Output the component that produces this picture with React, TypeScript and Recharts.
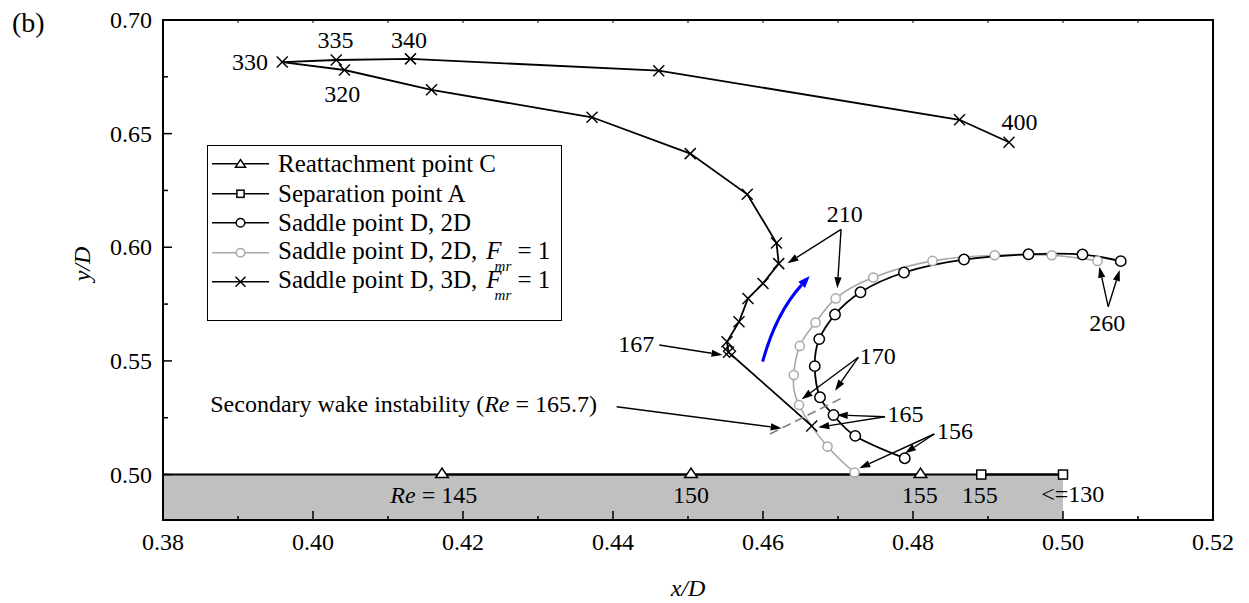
import React from 'react';
import {
  LineChart,
  Line,
  XAxis,
  YAxis,
  ReferenceArea,
  ReferenceLine,
  ReferenceDot,
  Legend,
} from 'recharts';

const SERIF = "'Liberation Serif', 'Times New Roman', Times, serif";
const WIDTH = 1249;
const HEIGHT = 603;
const MARGIN = { top: 20, right: 36, bottom: 43, left: 103 };

// ---- data (x/D, y/D) ----
const reattachmentX = [0.4172, 0.4504, 0.481];
const reattachmentY = [0.5, 0.5, 0.5];

const separationX = [0.4891, 0.5];
const separationY = [0.5, 0.5];

// Saddle point D, 2D (Re = 156 ... 260)
const saddle2DX = [0.4789, 0.4723, 0.4694, 0.4676, 0.4669, 0.4675, 0.4696, 0.473, 0.4788, 0.4868, 0.4954, 0.5026, 0.5077];
const saddle2DY = [0.5072, 0.517, 0.5262, 0.534, 0.5477, 0.5596, 0.5704, 0.5802, 0.5889, 0.5946, 0.5969, 0.5968, 0.5939];

// Saddle point D, 2D, F_mr = 1 (Re = 156 ... 260)
const saddle2DFmrX = [0.4722, 0.4686, 0.4648, 0.4641, 0.4649, 0.467, 0.4697, 0.4747, 0.4826, 0.4909, 0.4985, 0.5046];
const saddle2DFmrY = [0.5009, 0.5123, 0.5306, 0.5438, 0.5566, 0.5669, 0.5775, 0.5867, 0.594, 0.5965, 0.5965, 0.594];

// Saddle point D, 3D, F_mr = 1 (Re = 165 ... 400)
const saddle3DX = [0.4665, 0.4554, 0.4552, 0.4568, 0.458, 0.46, 0.4621, 0.4618, 0.4579, 0.4503, 0.4372, 0.4158, 0.4042, 0.3959, 0.4031, 0.413, 0.4461, 0.4862, 0.4928];
const saddle3DY = [0.5214, 0.5538, 0.5584, 0.5672, 0.5775, 0.5841, 0.5928, 0.6019, 0.6233, 0.6412, 0.6572, 0.6693, 0.678, 0.6815, 0.6824, 0.6829, 0.6777, 0.6561, 0.6462];

// ---- axes ----
const xTicks = [0.38, 0.39, 0.4, 0.41, 0.42, 0.43, 0.44, 0.45, 0.46, 0.47, 0.48, 0.49, 0.5, 0.51, 0.52];
const xTickLabels = ['0.38', '0.40', '0.42', '0.44', '0.46', '0.48', '0.50', '0.52'];
const yTicks = [0.5, 0.525, 0.55, 0.575, 0.6, 0.625, 0.65, 0.675, 0.7];
const yTickLabels = ['0.50', '0.55', '0.60', '0.65', '0.70'];

// ---- annotations (data coordinates) ----
type Ann = { text: string; x: number; y: number; anchor?: 'start' | 'middle' | 'end'; italicRe?: boolean };
const reLabels: Ann[] = [
  { text: '330', x: 0.3916, y: 0.6817 },
  { text: '335', x: 0.403, y: 0.6912 },
  { text: '340', x: 0.4128, y: 0.6912 },
  { text: '320', x: 0.4039, y: 0.6678 },
  { text: '400', x: 0.4942, y: 0.6553 },
  { text: '210', x: 0.4709, y: 0.615 },
  { text: '260', x: 0.5059, y: 0.5668 },
  { text: '167', x: 0.4431, y: 0.5578 },
  { text: '170', x: 0.4753, y: 0.5522 },
  { text: '165', x: 0.479, y: 0.5266 },
  { text: '156', x: 0.4856, y: 0.5193 },
  { text: ' = 145', x: 0.4161, y: 0.491, italicRe: true },
  { text: '150', x: 0.4504, y: 0.491 },
  { text: '155', x: 0.4809, y: 0.491 },
  { text: '155', x: 0.4889, y: 0.491 },
  { text: '<=130', x: 0.5013, y: 0.4916 },
];

const pointerArrows: [number, number, number, number][] = [
  [0.47041, 0.60791, 0.46327, 0.59295],
  [0.47041, 0.60791, 0.46991, 0.58195],
  [0.50603, 0.57385, 0.50485, 0.59145],
  [0.50603, 0.57385, 0.50756, 0.59],
  [0.44617, 0.557, 0.4546, 0.5526],
  [0.47271, 0.55159, 0.46516, 0.53311],
  [0.47271, 0.55159, 0.4696, 0.53689],
  [0.47627, 0.52545, 0.46983, 0.5262],
  [0.47627, 0.52545, 0.46737, 0.52079],
  [0.48284, 0.51784, 0.47284, 0.50275],
  [0.48284, 0.51784, 0.47893, 0.50935],
  [0.44049, 0.52985, 0.46249, 0.52035],
];

const wakeInstabilityLine: [number, number, number, number] = [0.46093, 0.51784, 0.47071, 0.53399];
const trendArrow: [number, number, number, number] = [0.45995, 0.54965, 0.46623, 0.58736];
const wakeText = { x: 0.43787, y: 0.531 };

const toPoints = (xs: number[], ys: number[]) => xs.map((x, i) => ({ x, y: ys[i] }));
const reattachment = toPoints(reattachmentX, reattachmentY);
const separation = toPoints(separationX, separationY);
const saddle2D = toPoints(saddle2DX, saddle2DY);
const saddle2DFmr = toPoints(saddle2DFmrX, saddle2DFmrY);
const saddle3D = toPoints(saddle3DX, saddle3DY);

const GRAY = '#a8a8a8';

// ---- marker shapes ----
const Triangle = ({ cx, cy, s = 1 }: { cx: number; cy: number; s?: number }) => (
  <polygon
    points={`${cx},${cy - 6.5 * s} ${cx - 6.3 * s},${cy + 3 * s} ${cx + 6.3 * s},${cy + 3 * s}`}
    fill="#fff"
    stroke="#000"
    strokeWidth={1.5}
  />
);
const Square = ({ cx, cy, s = 1 }: { cx: number; cy: number; s?: number }) => (
  <rect x={cx - 4.5 * s} y={cy - 4.5 * s} width={9 * s} height={9 * s} fill="#fff" stroke="#000" strokeWidth={1.5} />
);
const Circle = ({ cx, cy, r, color }: { cx: number; cy: number; r: number; color: string }) => (
  <circle cx={cx} cy={cy} r={r} fill="#fff" stroke={color} strokeWidth={1.5} />
);
const Cross = ({ cx, cy, s = 5.5 }: { cx: number; cy: number; s?: number }) => (
  <g stroke="#000" strokeWidth={1.5}>
    <line x1={cx - s} y1={cy - s} x2={cx + s} y2={cy + s} />
    <line x1={cx - s} y1={cy + s} x2={cx + s} y2={cy - s} />
  </g>
);

const triDot = (p: any) => <Triangle key={p.index} cx={p.cx} cy={p.cy} />;
const sqDot = (p: any) => <Square key={p.index} cx={p.cx} cy={p.cy} />;
const blackCircleDot = (p: any) => <Circle key={p.index} cx={p.cx} cy={p.cy} r={5.2} color="#000" />;
const grayCircleDot = (p: any) => <Circle key={p.index} cx={p.cx} cy={p.cy} r={4.6} color={GRAY} />;
const crossDot = (p: any) => <Cross key={p.index} cx={p.cx} cy={p.cy} />;

// ---- axis ticks (inward, major + minor) ----
const XTick = (props: any) => {
  const { x, y, payload } = props;
  const label = payload.value.toFixed(2);
  const major = xTickLabels.includes(label);
  return (
    <g>
      <line x1={x} y1={y} x2={x} y2={y - (major ? 9 : 4)} stroke="#000" strokeWidth={1.5} />
      <line x1={x} y1={MARGIN.top} x2={x} y2={MARGIN.top + 3} stroke="#000" strokeWidth={1} />
      {major && (
        <text x={x} y={y + 30} textAnchor="middle" fontSize={24} fontFamily={SERIF} fill="#000">
          {label}
        </text>
      )}
    </g>
  );
};

const YTick = (props: any) => {
  const { x, y, payload } = props;
  const label = payload.value.toFixed(2);
  const major = yTickLabels.includes(label) && Math.abs(payload.value * 100 - Math.round(payload.value * 100)) < 1e-6;
  return (
    <g>
      <line x1={x} y1={y} x2={x + (major ? 9 : 5)} y2={y} stroke="#000" strokeWidth={1.5} />
      {major && (
        <text x={x - 11} y={y + 8} textAnchor="end" fontSize={24} fontFamily={SERIF} fill="#000">
          {label}
        </text>
      )}
    </g>
  );
};

// ---- annotation shapes ----
const ArrowShape = (props: any) => {
  const { x1, y1, x2, y2 } = props;
  const dx = x2 - x1;
  const dy = y2 - y1;
  const len = Math.hypot(dx, dy) || 1;
  const ux = dx / len;
  const uy = dy / len;
  const headLen = 11;
  const headW = 3.6;
  const bx = x2 - ux * headLen;
  const by = y2 - uy * headLen;
  const px = -uy;
  const py = ux;
  return (
    <g>
      <line x1={x1} y1={y1} x2={bx} y2={by} stroke="#000" strokeWidth={1.4} />
      <polygon points={`${x2},${y2} ${bx + px * headW},${by + py * headW} ${bx - px * headW},${by - py * headW}`} fill="#000" />
    </g>
  );
};

const CurvedArrowShape = (props: any) => {
  const { x1, y1, x2, y2 } = props;
  const dx = x2 - x1;
  const dy = y2 - y1;
  const len = Math.hypot(dx, dy) || 1;
  const nx = dy / len;
  const ny = -dx / len;
  const cx = (x1 + x2) / 2 + nx * len * 0.12;
  const cy = (y1 + y2) / 2 + ny * len * 0.12;
  const tx = x2 - cx;
  const ty = y2 - cy;
  const tl = Math.hypot(tx, ty) || 1;
  const ux = tx / tl;
  const uy = ty / tl;
  const headLen = 12;
  const headW = 4.5;
  const bx = x2 - ux * headLen;
  const by = y2 - uy * headLen;
  return (
    <g>
      <path d={`M${x1},${y1} Q${cx},${cy} ${bx},${by}`} fill="none" stroke="#0000ff" strokeWidth={3} />
      <polygon
        points={`${x2},${y2} ${bx - uy * headW},${by + ux * headW} ${bx + uy * headW},${by - ux * headW}`}
        fill="#0000ff"
      />
    </g>
  );
};

const makeTextShape = (a: Ann) => (p: any) => (
  <text
    x={p.cx}
    y={p.cy}
    dy="0.35em"
    textAnchor={a.anchor ?? 'middle'}
    fontSize={24}
    fontFamily={SERIF}
    fill="#000"
  >
    {a.italicRe && <tspan fontStyle="italic">Re</tspan>}
    {a.text}
  </text>
);

const wakeTextShape = (p: any) => (
  <text x={p.cx} y={p.cy} dy="0.35em" textAnchor="end" fontSize={24} fontFamily={SERIF} fill="#000">
    Secondary wake instability (<tspan fontStyle="italic">Re</tspan> = 165.7)
  </text>
);

const diamondShape = (p: any) => (
  <polygon
    points={`${p.cx + 1},${p.cy - 7} ${p.cx + 7},${p.cy - 1} ${p.cx + 1},${p.cy + 5} ${p.cx - 5},${p.cy - 1}`}
    fill="none"
    stroke="#000"
    strokeWidth={1.3}
  />
);

// ---- legend ----
const Fmr = () => (
  <>
    <i style={{ marginLeft: 9 }}>F</i>
    <i style={{ fontSize: 15, position: 'relative', top: 12, marginLeft: -7 }}>mr</i>
    {' '}= 1
  </>
);

const legendRows: { label: React.ReactNode; marker: (cx: number, cy: number) => React.ReactNode; color: string }[] = [
  { label: 'Reattachment point C', marker: (cx, cy) => <Triangle cx={cx} cy={cy + 1} s={0.8} />, color: '#000' },
  { label: 'Separation point A', marker: (cx, cy) => <Square cx={cx} cy={cy} s={0.8} />, color: '#000' },
  { label: 'Saddle point D, 2D', marker: (cx, cy) => <Circle cx={cx} cy={cy} r={4.3} color="#000" />, color: '#000' },
  {
    label: (
      <>
        Saddle point D, 2D,<Fmr />
      </>
    ),
    marker: (cx, cy) => <Circle cx={cx} cy={cy} r={4.3} color={GRAY} />,
    color: GRAY,
  },
  {
    label: (
      <>
        Saddle point D, 3D,<Fmr />
      </>
    ),
    marker: (cx, cy) => <Cross cx={cx} cy={cy} s={5} />,
    color: '#000',
  },
];

const LegendBox = () => (
  <div
    style={{
      boxSizing: 'border-box',
      width: 355,
      height: 176,
      border: '1.5px solid #000',
      background: '#fff',
      paddingTop: 3,
      fontFamily: SERIF,
      fontSize: 25,
      color: '#000',
    }}
  >
    {legendRows.map((row, i) => (
      <div key={i} style={{ display: 'flex', alignItems: 'center', height: 29.5, whiteSpace: 'nowrap' }}>
        <svg width={69} height={29.5} style={{ flex: 'none', marginLeft: 1 }}>
          <line x1={3} y1={14.75} x2={60} y2={14.75} stroke={row.color} strokeWidth={1.6} />
          {row.marker(31.5, 14.75)}
        </svg>
        <span style={{ lineHeight: '29.5px' }}>{row.label}</span>
      </div>
    ))}
  </div>
);

export default function App() {
  return (
    <div style={{ position: 'absolute', left: 0, top: 0, width: WIDTH, height: HEIGHT, background: '#fff' }}>
      <LineChart width={WIDTH} height={HEIGHT} margin={MARGIN}>
        <XAxis
          type="number"
          dataKey="x"
          domain={[0.38, 0.52]}
          allowDataOverflow
          ticks={xTicks}
          interval={0}
          tick={<XTick />}
          tickSize={0}
          tickMargin={0}
          axisLine={false}
          tickLine={false}
          height={40}
          label={{
            content: (p: any) => {
              const vb = p.viewBox;
              return (
                <text x={vb.x + vb.width / 2} y={vb.y + 76} textAnchor="middle" fontSize={24} fontFamily={SERIF} fontStyle="italic" fill="#000">
                  x/D
                </text>
              );
            },
          }}
        />
        <YAxis
          type="number"
          dataKey="y"
          domain={[0.48, 0.7]}
          allowDataOverflow
          ticks={yTicks}
          interval={0}
          tick={<YTick />}
          tickSize={0}
          tickMargin={0}
          axisLine={false}
          tickLine={false}
          width={60}
          label={{
            content: (p: any) => {
              const vb = p.viewBox;
              const cx = vb.x - 21;
              const cy = vb.y + vb.height / 2 - 6;
              return (
                <g>
                  <text
                    x={cx}
                    y={cy}
                    dy="0.35em"
                    textAnchor="middle"
                    fontSize={24}
                    fontFamily={SERIF}
                    fontStyle="italic"
                    fill="#000"
                    transform={`rotate(-90 ${cx} ${cy})`}
                  >
                    y/D
                  </text>
                  <text x={vb.x - 91} y={vb.y + 12} fontSize={28} fontFamily={SERIF} fill="#000">
                    (b)
                  </text>
                </g>
              );
            },
          }}
        />

        {/* shaded band below y/D = 0.5 up to x/D = 0.5 */}
        <ReferenceArea x1={0.38} x2={0.5} y1={0.48} y2={0.5} fill="#c0c0c0" fillOpacity={1} stroke="none" />
        <ReferenceLine segment={[{ x: 0.38, y: 0.5 }, { x: 0.5, y: 0.5 }]} stroke="#000" strokeWidth={2} />

        {/* plot frame */}
        <ReferenceArea x1={0.38} x2={0.52} y1={0.48} y2={0.7} fill="none" stroke="#000" strokeWidth={2} ifOverflow="visible" />

        <Line data={saddle2DFmr} dataKey="y" type="natural" stroke={GRAY} strokeWidth={1.6} dot={grayCircleDot} activeDot={false} isAnimationActive={false} legendType="none" />
        <Line data={saddle2D} dataKey="y" type="natural" stroke="#000" strokeWidth={1.8} dot={blackCircleDot} activeDot={false} isAnimationActive={false} legendType="none" />
        <Line data={saddle3D} dataKey="y" type="linear" stroke="#000" strokeWidth={1.8} dot={crossDot} activeDot={false} isAnimationActive={false} legendType="none" />
        <Line data={reattachment} dataKey="y" type="linear" stroke="#000" strokeWidth={2} dot={triDot} activeDot={false} isAnimationActive={false} legendType="none" />
        <Line data={separation} dataKey="y" type="linear" stroke="#000" strokeWidth={2} dot={sqDot} activeDot={false} isAnimationActive={false} legendType="none" />

        <ReferenceDot x={saddle3DX[1]} y={saddle3DY[1]} r={6} shape={diamondShape} />

        <ReferenceLine
          segment={[{ x: wakeInstabilityLine[0], y: wakeInstabilityLine[1] }, { x: wakeInstabilityLine[2], y: wakeInstabilityLine[3] }]}
          stroke="#808080"
          strokeWidth={1.6}
          strokeDasharray="9 5"
        />
        <ReferenceLine
          segment={[{ x: trendArrow[0], y: trendArrow[1] }, { x: trendArrow[2], y: trendArrow[3] }]}
          shape={CurvedArrowShape}
        />
        {pointerArrows.map((a, i) => (
          <ReferenceLine key={`arr-${i}`} segment={[{ x: a[0], y: a[1] }, { x: a[2], y: a[3] }]} shape={ArrowShape} />
        ))}
        {reLabels.map((a, i) => (
          <ReferenceDot key={`lbl-${i}`} x={a.x} y={a.y} r={1} shape={makeTextShape(a)} />
        ))}
        <ReferenceDot x={wakeText.x} y={wakeText.y} r={1} shape={wakeTextShape} />

        <Legend
          layout="vertical"
          align="center"
          verticalAlign="middle"
          content={<LegendBox />}
          wrapperStyle={{ position: 'absolute', left: 207, top: 145, width: 355, height: 176, margin: 0 }}
        />
      </LineChart>
    </div>
  );
}
